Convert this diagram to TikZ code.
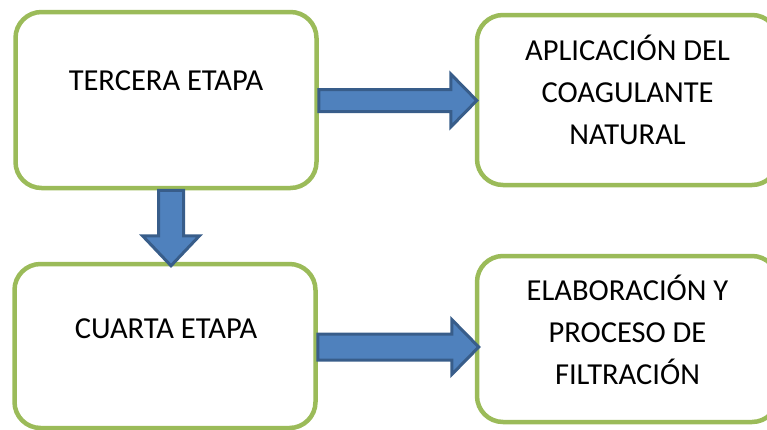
\documentclass[tikz,border=0pt]{standalone}
\usepackage{fontspec}
\setmainfont{Carlito}
\usetikzlibrary{calc}
\definecolor{boxgreen}{HTML}{9BBB59}
\definecolor{arrowfill}{HTML}{4F81BD}
\definecolor{arrowline}{HTML}{385D8A}
\tikzset{
  stagebox/.style={draw=boxgreen, line width=4.5pt, rounded corners=26pt,
    fill=white, inner sep=0pt, minimum width=301pt},
  stagetext/.style={align=center, anchor=base, inner sep=0pt,
    font=\fontsize{30.5}{42}\selectfont},
  blockarrow/.style={fill=arrowfill, draw=arrowline, line width=3pt, line join=miter},
}
\begin{document}
\begin{tikzpicture}[x=1pt, y=-1pt]
  \useasboundingbox (0,0) rectangle (767,429);

  % stage boxes
  \node[stagebox, minimum height=176pt] (t3) at (166,100) {};
  \node[stagebox, minimum height=170pt] (ap) at (627.5,100) {};
  \node[stagebox, minimum height=164pt] (c4) at (165,346) {};
  \node[stagebox, minimum height=166pt] (el) at (627.5,339) {};

  % box captions (anchor base = baseline of the last line)
  \node[stagetext] (t3txt) at ($(t3.north)+(0,81)$) {TERCERA ETAPA};
  \node[stagetext] (c4txt) at ($(c4.north)+(1,77)$) {CUARTA ETAPA};
  \node[stagetext] (aptxt) at ($(ap.north)+(0,132)$) {APLICACIÓN DEL\\COAGULANTE\\NATURAL};
  \node[stagetext] (eltxt) at ($(el.north)+(0,131)$) {ELABORACIÓN Y\\PROCESO DE\\FILTRACIÓN};

  % block arrow: TERCERA ETAPA -> APLICACIÓN
  \coordinate (a1s) at ($(t3.east)+(0,0.5)$);
  \coordinate (a1t) at ($(ap.west |- a1s)+(2,0)$);
  \draw[blockarrow]
    ($(a1s)+(0,-11)$) -- ($(a1t)+(-26,-11)$) -- ($(a1t)+(-26,-26.5)$) -- (a1t)
    -- ($(a1t)+(-26,26.5)$) -- ($(a1t)+(-26,11)$) -- ($(a1s)+(0,11)$) -- cycle;

  % block arrow: CUARTA ETAPA -> ELABORACIÓN
  \coordinate (a2s) at ($(c4.east)+(0,1)$);
  \coordinate (a2t) at ($(el.west |- a2s)+(4,0)$);
  \draw[blockarrow]
    ($(a2s)+(0,-13)$) -- ($(a2t)+(-27,-13)$) -- ($(a2t)+(-27,-27.5)$) -- (a2t)
    -- ($(a2t)+(-27,27.5)$) -- ($(a2t)+(-27,13)$) -- ($(a2s)+(0,13)$) -- cycle;

  % block arrow: TERCERA ETAPA -> CUARTA ETAPA
  \coordinate (a3s) at ($(t3.south)+(5,0)$);
  \coordinate (a3t) at ($(a3s |- c4.north)+(0,4)$);
  \draw[blockarrow]
    ($(a3s)+(-12.5,0)$) -- ($(a3t)+(-12.5,-30)$) -- ($(a3t)+(-28.5,-30)$) -- (a3t)
    -- ($(a3t)+(28.5,-30)$) -- ($(a3t)+(12.5,-30)$) -- ($(a3s)+(12.5,0)$) -- cycle;
\end{tikzpicture}
\end{document}
